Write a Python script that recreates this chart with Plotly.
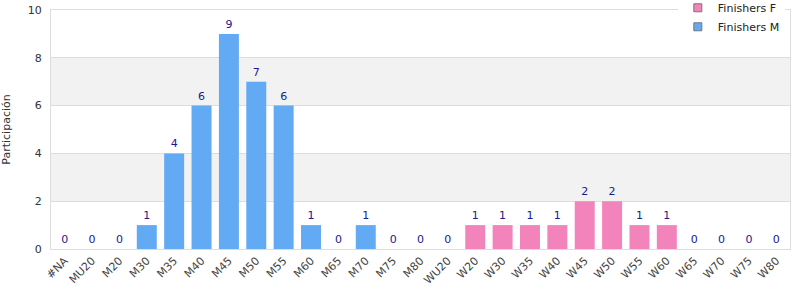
import plotly.graph_objects as go

categories = ["#NA", "MU20", "M20", "M30", "M35", "M40", "M45", "M50", "M55", "M60",
              "M65", "M70", "M75", "M80", "WU20", "W20", "W30", "W35", "W40", "W45",
              "W50", "W55", "W60", "W65", "W70", "W75", "W80"]
cats_m = categories[:15]
vals_m = [0, 0, 0, 1, 4, 6, 9, 7, 6, 1, 0, 1, 0, 0, 0]
cats_f = categories[15:]
vals_f = [1, 1, 1, 1, 2, 2, 1, 1, 0, 0, 0, 0]

y_ticks = [0, 2, 4, 6, 8, 10]
color_f = "#f383bb"
color_m = "#62aaf4"

fig = go.Figure()
fig.add_trace(go.Bar(x=cats_f, y=vals_f, name="Finishers F", showlegend=False,
                     marker=dict(color=color_f, line=dict(width=0)),
                     text=vals_f, textposition="outside", textfont=dict(color="#1a1a8c", size=11),
                     cliponaxis=False))
fig.add_trace(go.Bar(x=cats_m, y=vals_m, name="Finishers M", showlegend=False,
                     marker=dict(color=color_m, line=dict(width=0)),
                     text=vals_m, textposition="outside", textfont=dict(color="#1a1a8c", size=11),
                     cliponaxis=False))
for name, col in [("Finishers F", color_f), ("Finishers M", color_m)]:
    fig.add_trace(go.Scatter(x=[None], y=[None], mode="markers", name=name,
                             marker=dict(symbol="square", size=8, color=col,
                                         line=dict(color="#777", width=1))))

shapes = []
for lo, hi in [(2, 4), (6, 8)]:
    shapes.append(dict(type="rect", xref="paper", yref="y", x0=0, x1=1, y0=lo, y1=hi,
                       fillcolor="#f2f2f2", line=dict(width=0), layer="below"))

fig.update_layout(
    width=800, height=300,
    margin=dict(l=51, r=10, t=10, b=51, autoexpand=False),
    paper_bgcolor="white", plot_bgcolor="white",
    barmode="overlay", bargap=0.27,
    font=dict(family="DejaVu Sans", size=11, color="#333"),
    shapes=shapes,
    legend=dict(x=0.993, y=1.07, xanchor="right", yanchor="top", bgcolor="white",
                font=dict(size=11, color="#222"), traceorder="normal",
                itemwidth=30, tracegroupgap=0, borderwidth=0),
    xaxis=dict(categoryorder="array", categoryarray=categories, tickangle=-45,
               showgrid=False, showline=True, linecolor="#ddd", mirror=True,
               ticks="", tickfont=dict(size=11, color="#444"), automargin=False),
    yaxis=dict(range=[0, 10], tickvals=y_ticks, showgrid=True, gridcolor="#ddd",
               showline=True, linecolor="#ddd", mirror=True, zeroline=False,
               ticklabelstandoff=6, automargin=False,
               title=dict(text="Participación", font=dict(size=11, color="#333"), standoff=29),
               tickfont=dict(size=11, color="#333")),
)
fig.write_html("out.html")
